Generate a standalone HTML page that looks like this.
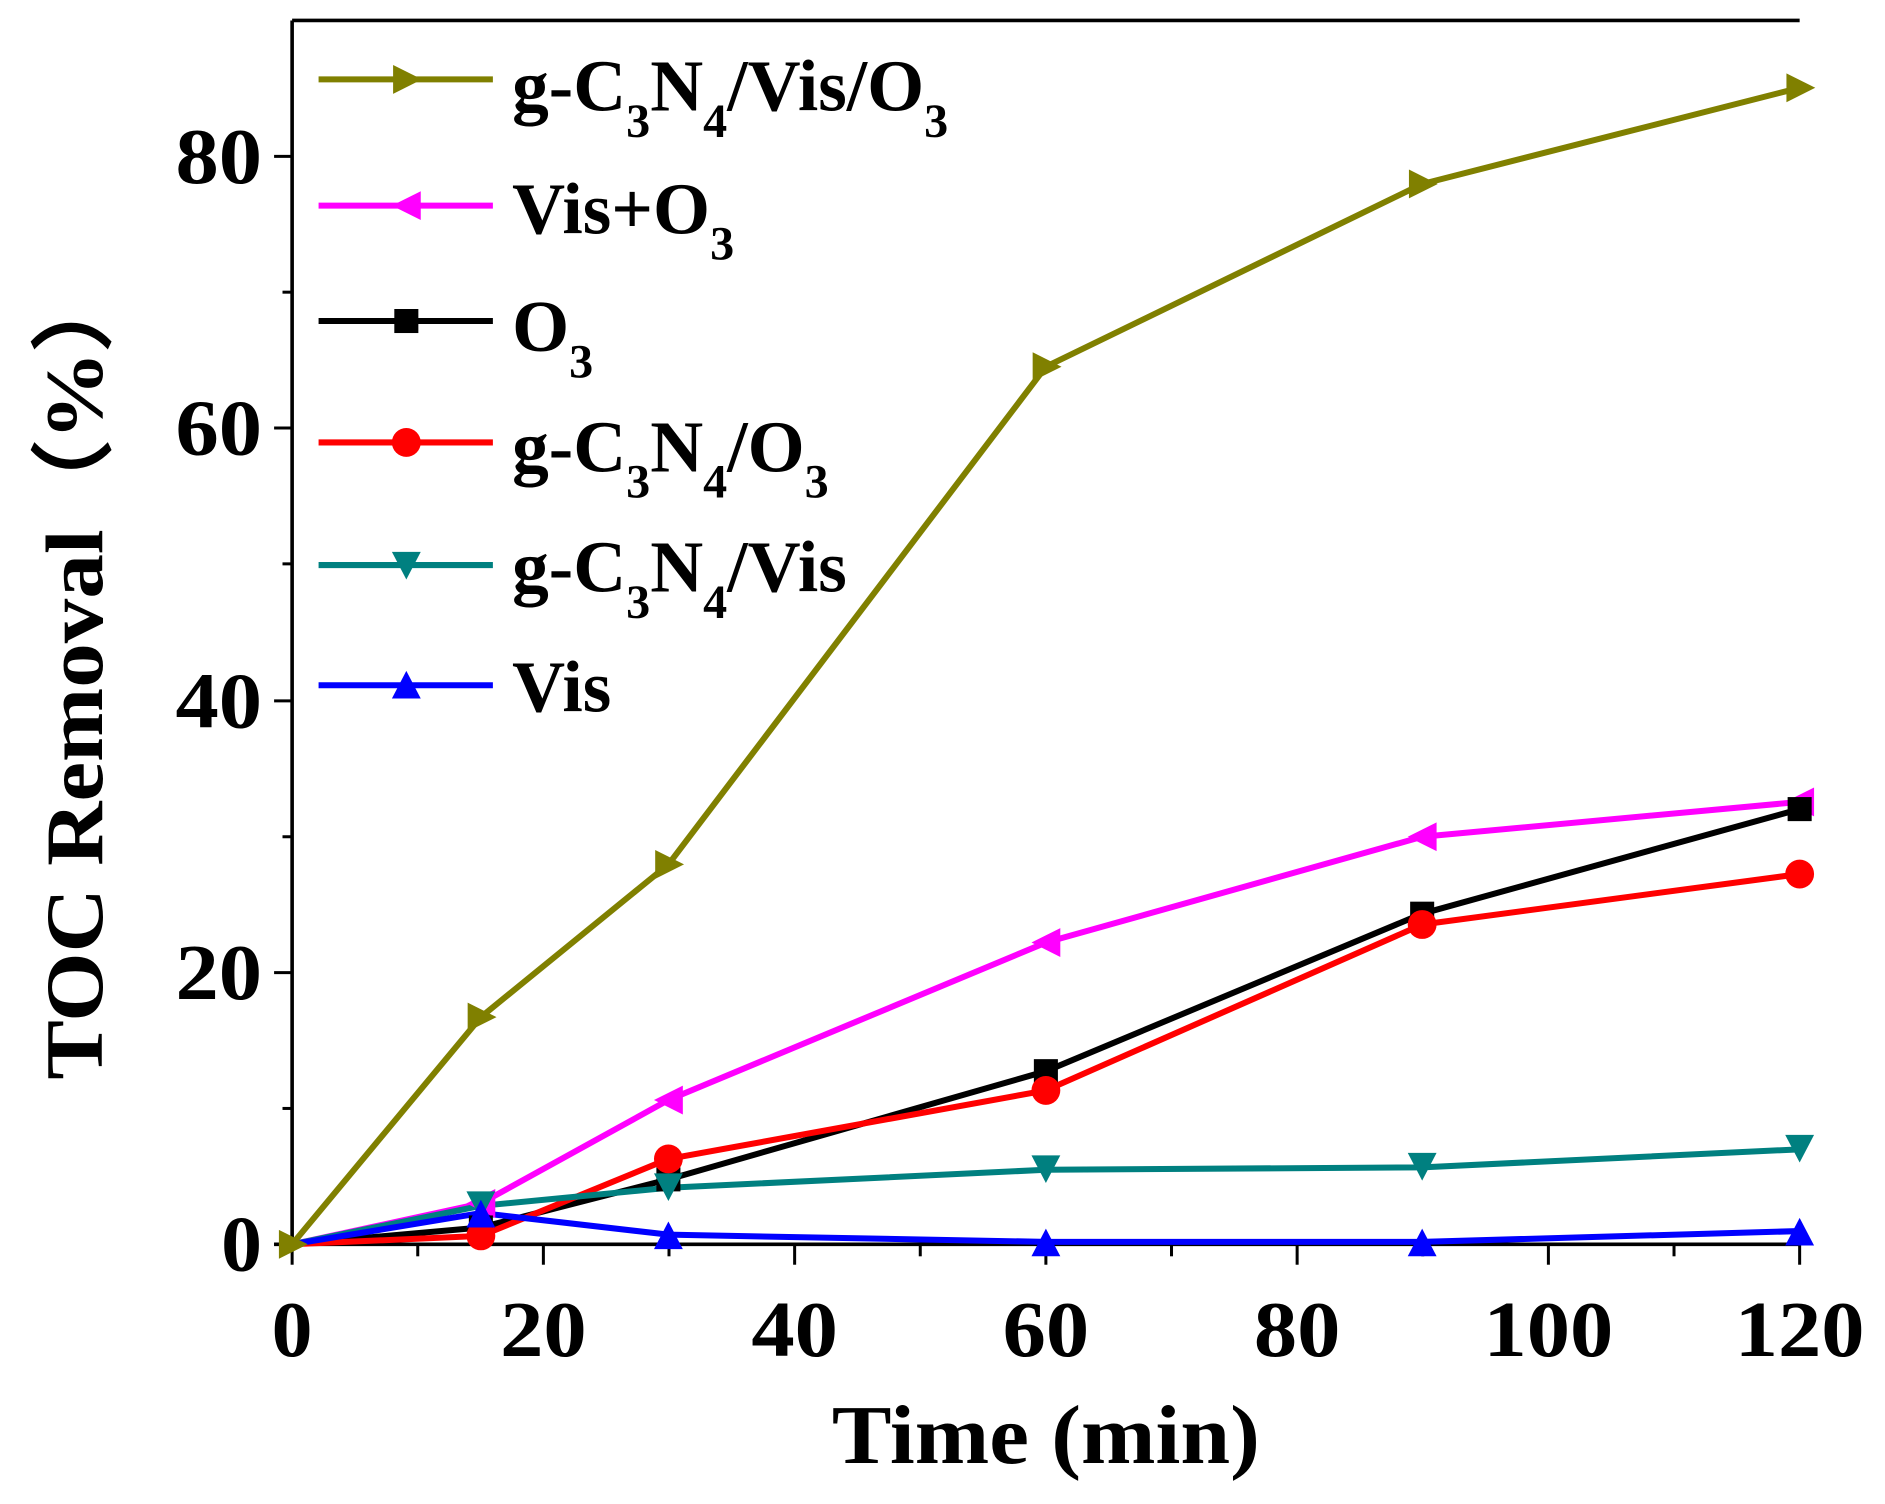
<!DOCTYPE html>
<html><head><style>html,body{margin:0;padding:0;background:#fff}svg{display:block}</style></head>
<body>
<svg width="1885" height="1504" viewBox="0 0 1568 1251" xmlns="http://www.w3.org/2000/svg" font-family="'Liberation Serif',serif" font-weight="bold">
<rect width="1568" height="1251" fill="#fff"/>
<g stroke="#000" stroke-width="3" fill="none">
<line x1="243" y1="17" x2="1497" y2="17"/>
<line x1="243" y1="17" x2="243" y2="1036"/>
<line x1="228" y1="1035" x2="1497" y2="1035"/>
</g>
<g stroke="#000" stroke-width="2.5">
<line x1="243" y1="1035" x2="243" y2="1052"/><line x1="347.5" y1="1035" x2="347.5" y2="1045"/>
<line x1="452" y1="1035" x2="452" y2="1052"/><line x1="556.5" y1="1035" x2="556.5" y2="1045"/>
<line x1="661" y1="1035" x2="661" y2="1052"/><line x1="765.5" y1="1035" x2="765.5" y2="1045"/>
<line x1="870" y1="1035" x2="870" y2="1052"/><line x1="974.5" y1="1035" x2="974.5" y2="1045"/>
<line x1="1079" y1="1035" x2="1079" y2="1052"/><line x1="1183.5" y1="1035" x2="1183.5" y2="1045"/>
<line x1="1288" y1="1035" x2="1288" y2="1052"/><line x1="1392.5" y1="1035" x2="1392.5" y2="1045"/>
<line x1="1497" y1="1035" x2="1497" y2="1052"/>
<line x1="228" y1="1035" x2="243" y2="1035"/><line x1="235" y1="922" x2="243" y2="922"/>
<line x1="228" y1="809" x2="243" y2="809"/><line x1="235" y1="696" x2="243" y2="696"/>
<line x1="228" y1="583" x2="243" y2="583"/><line x1="235" y1="469" x2="243" y2="469"/>
<line x1="228" y1="356" x2="243" y2="356"/><line x1="235" y1="243" x2="243" y2="243"/>
<line x1="228" y1="130" x2="243" y2="130"/>
</g>
<g font-size="66" text-anchor="end">
<text x="218" y="1057" textLength="34" lengthAdjust="spacingAndGlyphs">0</text>
<text x="218" y="831" textLength="72" lengthAdjust="spacingAndGlyphs">20</text>
<text x="218" y="605" textLength="72" lengthAdjust="spacingAndGlyphs">40</text>
<text x="218" y="378" textLength="72" lengthAdjust="spacingAndGlyphs">60</text>
<text x="218" y="152" textLength="72" lengthAdjust="spacingAndGlyphs">80</text>
</g>
<g font-size="66" text-anchor="middle">
<text x="243" y="1128" textLength="34" lengthAdjust="spacingAndGlyphs">0</text>
<text x="452" y="1128" textLength="72" lengthAdjust="spacingAndGlyphs">20</text>
<text x="661" y="1128" textLength="72" lengthAdjust="spacingAndGlyphs">40</text>
<text x="870" y="1128" textLength="72" lengthAdjust="spacingAndGlyphs">60</text>
<text x="1079" y="1128" textLength="72" lengthAdjust="spacingAndGlyphs">80</text>
<text x="1288" y="1128" textLength="108" lengthAdjust="spacingAndGlyphs">100</text>
<text x="1497" y="1128" textLength="108" lengthAdjust="spacingAndGlyphs">120</text>
</g>
<text x="870" y="1217" font-size="70" text-anchor="middle" textLength="356" lengthAdjust="spacingAndGlyphs">Time (min)</text>
<text transform="translate(85,558) rotate(-90)" font-size="68" text-anchor="middle" textLength="680" lengthAdjust="spacingAndGlyphs">TOC Removal（%）</text>

<g fill="none" stroke-width="5" stroke-linejoin="round">
<polyline stroke="#808000" points="243,1035 400,846 556,719 870,305 1183,153 1497,73"/>
<polyline stroke="#ff00ff" points="243,1035 400,1001 556,915 870,784 1183,696 1497,667"/>
<polyline stroke="#000" points="243,1035 400,1021 556,981 870,891 1183,760 1497,673"/>
<polyline stroke="#ff0000" points="243,1035 400,1028 556,964 870,907 1183,769 1497,727"/>
<polyline stroke="#008080" points="243,1035 400,1003 556,988 870,973 1183,971 1497,956"/>
<polyline stroke="#0000ff" points="243,1035 400,1009 556,1027 870,1033 1183,1033 1497,1024"/>
</g>
<g fill="#808000">
<path d="M232,1023 l24,12 -24,12z"/><path d="M389,834 l24,12 -24,12z"/><path d="M545,707 l24,12 -24,12z"/><path d="M859,293 l24,12 -24,12z"/><path d="M1172,141 l24,12 -24,12z"/><path d="M1486,61 l24,12 -24,12z"/>
</g>
<g fill="#ff00ff">
<path d="M412,989 l-24,12 24,12z"/><path d="M568,903 l-24,12 24,12z"/><path d="M882,772 l-24,12 24,12z"/><path d="M1195,684 l-24,12 24,12z"/><path d="M1509,655 l-24,12 24,12z"/>
</g>
<g fill="#000"><rect x="390" y="1011" width="20" height="20"/><rect x="546" y="971" width="20" height="20"/><rect x="860" y="881" width="20" height="20"/><rect x="1173" y="750" width="20" height="20"/><rect x="1487" y="663" width="20" height="20"/></g>
<g fill="#ff0000"><circle cx="400" cy="1028" r="12"/><circle cx="556" cy="964" r="12"/><circle cx="870" cy="907" r="12"/><circle cx="1183" cy="769" r="12"/><circle cx="1497" cy="727" r="12"/></g>
<g fill="#008080"><path d="M388,991 l24,0 -12,23z"/><path d="M544,976 l24,0 -12,23z"/><path d="M858,961 l24,0 -12,23z"/><path d="M1171,959 l24,0 -12,23z"/><path d="M1485,944 l24,0 -12,23z"/></g>
<g fill="#0000ff"><path d="M388,1021 l24,0 -12,-23z"/><path d="M544,1039 l24,0 -12,-23z"/><path d="M858,1045 l24,0 -12,-23z"/><path d="M1171,1045 l24,0 -12,-23z"/><path d="M1485,1036 l24,0 -12,-23z"/></g>

<g stroke-width="5">
<line x1="265" y1="66" x2="410" y2="66" stroke="#808000"/>
<line x1="265" y1="171" x2="410" y2="171" stroke="#ff00ff"/>
<line x1="265" y1="267" x2="410" y2="267" stroke="#000"/>
<line x1="265" y1="368" x2="410" y2="368" stroke="#ff0000"/>
<line x1="265" y1="470" x2="410" y2="470" stroke="#008080"/>
<line x1="265" y1="570" x2="410" y2="570" stroke="#0000ff"/>
</g>
<path d="M327,54 l24,12 -24,12z" fill="#808000"/>
<path d="M350,159 l-24,12 24,12z" fill="#ff00ff"/>
<rect x="328" y="257" width="20" height="20" fill="#000"/>
<circle cx="338" cy="368" r="12" fill="#ff0000"/>
<path d="M326,459 l24,0 -12,23z" fill="#008080"/>
<path d="M326,581 l24,0 -12,-23z" fill="#0000ff"/>
<g font-size="61">
<text x="426" y="92">g-C<tspan font-size="40" dy="22">3</tspan><tspan dy="-22">N</tspan><tspan font-size="40" dy="22">4</tspan><tspan dy="-22">/Vis/O</tspan><tspan font-size="40" dy="22">3</tspan></text>
<text x="426" y="194">Vis+O<tspan font-size="40" dy="22">3</tspan></text>
<text x="426" y="292">O<tspan font-size="40" dy="22">3</tspan></text>
<text x="426" y="392">g-C<tspan font-size="40" dy="22">3</tspan><tspan dy="-22">N</tspan><tspan font-size="40" dy="22">4</tspan><tspan dy="-22">/O</tspan><tspan font-size="40" dy="22">3</tspan></text>
<text x="426" y="492">g-C<tspan font-size="40" dy="22">3</tspan><tspan dy="-22">N</tspan><tspan font-size="40" dy="22">4</tspan><tspan dy="-22">/Vis</tspan></text>
<text x="426" y="592">Vis</text>
</g>
</svg>
</body></html>
